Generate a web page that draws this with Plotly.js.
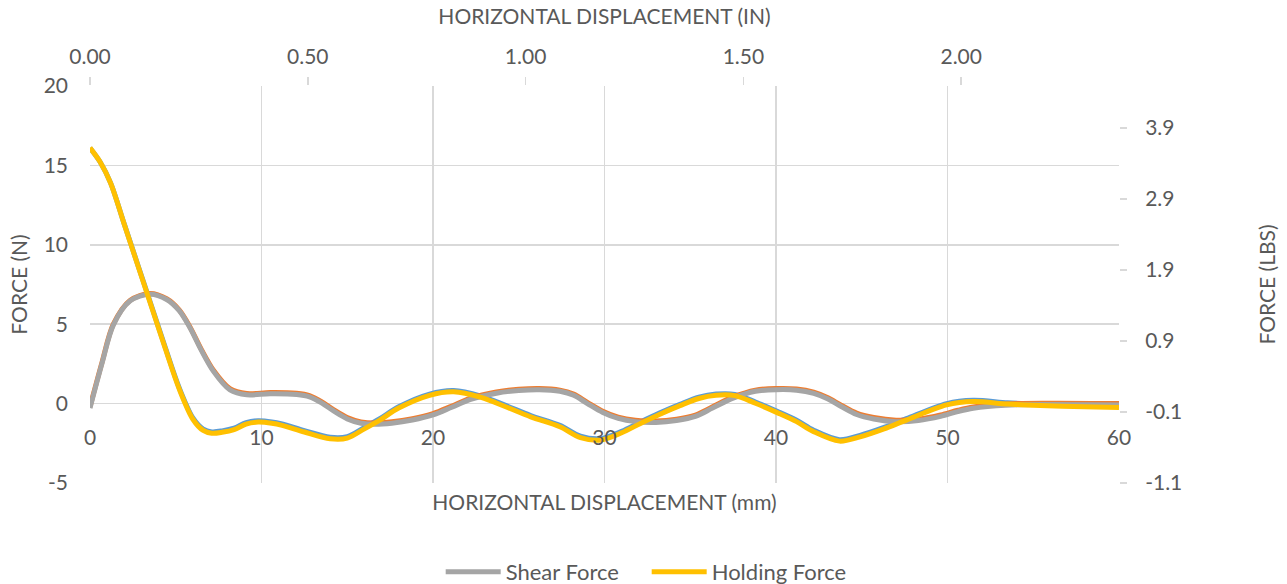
<!DOCTYPE html>
<html>
<head>
<meta charset="utf-8">
<script src="https://cdn.plot.ly/plotly-3.0.1.min.js"></script>
<style>
html,body{margin:0;padding:0;background:#fff;}
#chart{width:1287px;height:584px;}
</style>
</head>
<body>
<div id="chart"></div>
<script>
// ---- Data ----
// Holding force, metric
var holdingMm = [0, 0.6, 1.2, 2.0, 2.8, 3.6, 4.4, 5.2, 6.0, 6.6, 7.1, 7.7, 8.4, 9.1, 9.8, 10.6, 11.2, 12.5, 14.0, 15.0, 16.0, 16.9, 18.0, 19.8, 21.2, 22.8, 24.2, 25.7, 27.4, 28.6, 29.8, 31.0, 32.1, 33.2, 34.4, 35.5, 36.5, 37.6, 38.8, 40.1, 41.2, 42.2, 43.7, 44.9, 46.3, 47.6, 49.95, 51.5, 53.5, 55.4, 58, 60];
var holdingN  = [16.1, 15.2, 13.9, 11.3, 8.7, 6.1, 3.5, 1.0, -0.9, -1.6, -1.78, -1.72, -1.55, -1.2, -1.08, -1.15, -1.28, -1.7, -2.12, -2.08, -1.5, -0.95, -0.2, 0.6, 0.82, 0.47, -0.1, -0.75, -1.37, -2.05, -2.2, -1.75, -1.16, -0.6, -0.05, 0.4, 0.6, 0.58, 0.1, -0.5, -1.05, -1.68, -2.27, -2.0, -1.5, -0.95, 0.0, 0.21, 0.05, -0.04, -0.12, -0.17];
// Shear force, metric
var shearMm = [0, 0.7, 1.36, 2.33, 3.5, 4.47, 5.2, 5.83, 6.5, 7.2, 8.16, 9.14, 10.5, 12.05, 12.8, 13.5, 14.2, 15.0, 15.8, 16.6, 17.6, 18.8, 20.0, 21.1, 22.2, 23.7, 25.0, 26.2, 27.4, 28.2, 29.0, 29.9, 30.8, 31.8, 33.0, 34.2, 35.3, 36.3, 37.5, 38.8, 40.0, 41.2, 42.2, 43.0, 43.8, 44.7, 45.7, 47.0, 48.3, 49.6, 50.6, 51.5, 53.4, 56, 60];
var shearN  = [-0.2, 2.6, 5.0, 6.5, 6.93, 6.6, 5.9, 4.83, 3.4, 2.1, 0.94, 0.63, 0.7, 0.65, 0.5, 0.12, -0.38, -0.88, -1.15, -1.22, -1.15, -0.95, -0.63, -0.15, 0.35, 0.73, 0.9, 0.95, 0.85, 0.6, 0.08, -0.48, -0.85, -1.05, -1.1, -0.98, -0.72, -0.2, 0.42, 0.85, 0.95, 0.92, 0.72, 0.38, -0.1, -0.6, -0.88, -1.05, -0.98, -0.72, -0.42, -0.21, -0.02, 0.02, 0.0];
// Unit conversions used by the imperial series
var MM_PER_IN = 25.4;
var LBS_PER_N = 0.224809;
var holdingIn  = holdingMm.map(function(v){return v / MM_PER_IN;});
var holdingLbs = holdingN.map(function(v){return v * LBS_PER_N;});
var shearIn    = shearMm.map(function(v){return v / MM_PER_IN;});
var shearLbs   = shearN.map(function(v){return v * LBS_PER_N;});

// Tick labels
var mmTicks   = [0, 10, 20, 30, 40, 50, 60];
var nTicks    = [-5, 0, 5, 10, 15, 20];
var nLabels   = ['-5', '0', '5', '10', '15', '20'];
var inTicks   = [0, 0.5, 1.0, 1.5, 2.0];
var inLabels  = ['0.00', '0.50', '1.00', '1.50', '2.00'];
var lbsTicks  = [-1.1, -0.1, 0.9, 1.9, 2.9, 3.9];
var lbsLabels = ['-1.1', '-0.1', '0.9', '1.9', '2.9', '3.9'];

var TXT = '#595959', GRID = '#D9D9D9', FONT = 'Lato, "Open Sans", sans-serif';
var LW = 5, FS = 21;

var traces = [
  {x: holdingMm, y: holdingN, xaxis: 'x', yaxis: 'y', mode: 'lines', name: 'Holding Force (N)',
   line: {color: '#5B9BD5', width: LW, shape: 'spline', smoothing: 0.9}, showlegend: false, hoverinfo: 'skip'},
  {x: shearMm, y: shearN, xaxis: 'x', yaxis: 'y', mode: 'lines', name: 'Shear Force (N)',
   line: {color: '#ED7D31', width: LW, shape: 'spline', smoothing: 0.9}, showlegend: false, hoverinfo: 'skip'},
  {x: shearIn, y: shearLbs, xaxis: 'x2', yaxis: 'y2', mode: 'lines', name: 'Shear Force',
   line: {color: '#A5A5A5', width: LW, shape: 'spline', smoothing: 0.9}},
  {x: holdingIn, y: holdingLbs, xaxis: 'x2', yaxis: 'y2', mode: 'lines', name: 'Holding Force',
   line: {color: '#FFC000', width: LW, shape: 'spline', smoothing: 0.9}}
];

var layout = {
  width: 1287, height: 584,
  margin: {l: 90, r: 168, t: 86, b: 101, pad: 0, autoexpand: false},
  paper_bgcolor: '#fff', plot_bgcolor: '#fff',
  font: {family: FONT, size: FS, color: TXT},
  showlegend: true,
  legend: {orientation: 'h', x: 0.541, xanchor: 'center', y: -0.224, yanchor: 'middle',
           font: {size: 22, color: TXT}, itemwidth: 55, entrywidth: 136, tracegroupgap: 0},
  xaxis: {
    range: [0, 60], tickmode: 'array', tickvals: mmTicks, ticktext: mmTicks.map(String),
    showgrid: true, gridcolor: GRID, gridwidth: 1.5, zeroline: false, showline: false, ticks: '',
    anchor: 'free', position: 0.2, ticklabelstandoff: 19, automargin: false,
    title: {text: 'HORIZONTAL DISPLACEMENT (mm)', font: {size: FS, color: TXT}, standoff: 47},
    tickfont: {size: FS, color: TXT}
  },
  yaxis: {
    range: [-5, 20], tickmode: 'array', tickvals: nTicks, ticktext: nLabels,
    showgrid: true, gridcolor: GRID, gridwidth: 1.5, zeroline: false, showline: false, ticks: '',
    ticklabelstandoff: 21, automargin: false,
    title: {text: 'FORCE (N)', font: {size: FS, color: TXT}, standoff: 10},
    tickfont: {size: FS, color: TXT}
  },
  xaxis2: {
    overlaying: 'x', side: 'top', anchor: 'y2',
    range: [0, 60 / MM_PER_IN], tickmode: 'array', tickvals: inTicks, ticktext: inLabels,
    showgrid: false, zeroline: false, showline: false, automargin: false,
    ticks: 'outside', ticklen: 8, tickcolor: GRID, tickwidth: 1.5, ticklabelstandoff: 5,
    title: {text: 'HORIZONTAL DISPLACEMENT (IN)', font: {size: FS, color: TXT}, standoff: 12},
    tickfont: {size: FS, color: TXT}
  },
  yaxis2: {
    overlaying: 'y', side: 'right', anchor: 'x2',
    range: [-1.1, 4.49], tickmode: 'array', tickvals: lbsTicks, ticktext: lbsLabels,
    showgrid: false, zeroline: false, showline: false, automargin: false,
    ticks: 'outside', ticklen: 7, tickcolor: GRID, tickwidth: 1.5, ticklabelstandoff: 14,
    title: {text: 'FORCE (LBS)', font: {size: FS, color: TXT}, standoff: 78},
    tickfont: {size: FS, color: TXT}
  }
};

Plotly.newPlot('chart', traces, layout, {displayModeBar: false, staticPlot: true});
</script>
</body>
</html>
